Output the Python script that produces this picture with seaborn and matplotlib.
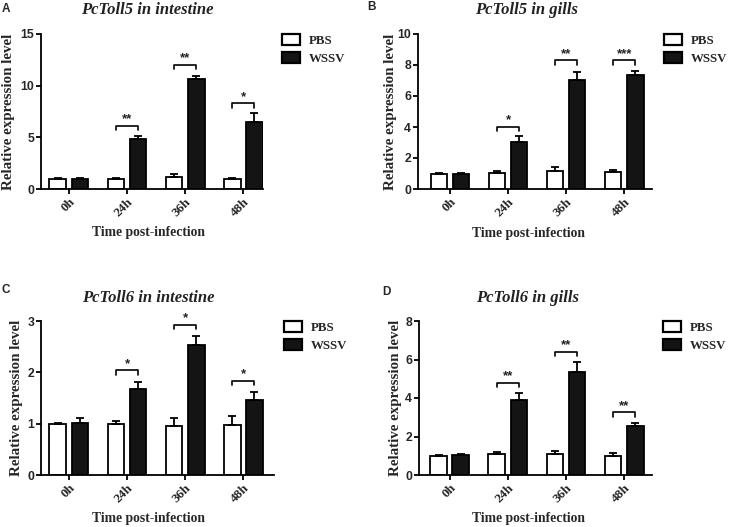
# -*- coding: utf-8 -*-
# relative expression of PcToll5 / PcToll6 after WSSV challenge, four panels
import numpy as np
import pandas as pd
import seaborn as sns
import matplotlib.pyplot as plt
from matplotlib.patches import Patch

sns.set_theme(style="ticks")
plt.rcParams["font.family"] = ["Liberation Serif", "DejaVu Serif"]

# data
times = ["0h", "24h", "36h", "48h"]
groups = ["PBS", "WSSV"]
titles = ["PcToll5 in intestine", "PcToll5 in gills", "PcToll6 in intestine", "PcToll6 in gills"]
letters = ["A", "B", "C", "D"]

pbs_a = [1.0, 1.0, 1.2, 1.0]
pbs_a_err = [0.06, 0.06, 0.25, 0.08]
wssv_a = [1.0, 4.85, 10.6, 6.45]
wssv_a_err = [0.06, 0.25, 0.3, 0.9]

pbs_b = [1.0, 1.05, 1.15, 1.1]
pbs_b_err = [0.05, 0.1, 0.25, 0.15]
wssv_b = [1.0, 3.05, 7.0, 7.35]
wssv_b_err = [0.06, 0.35, 0.55, 0.25]

pbs_c = [1.0, 1.0, 0.95, 0.98]
pbs_c_err = [0.02, 0.06, 0.17, 0.16]
wssv_c = [1.02, 1.68, 2.53, 1.47]
wssv_c_err = [0.09, 0.13, 0.18, 0.15]

pbs_d = [1.0, 1.08, 1.08, 1.0]
pbs_d_err = [0.05, 0.1, 0.15, 0.12]
wssv_d = [1.02, 3.88, 5.35, 2.55]
wssv_d_err = [0.05, 0.4, 0.5, 0.15]

# significance brackets (bracket level per time point, None = no bracket)
brk_a = [None, 6.1, 12.0, 8.3]
brk_b = [None, 4.0, 8.3, 8.3]
brk_c = [None, 2.04, 2.93, 1.84]
brk_d = [None, 4.8, 6.4, 3.25]
stars_a = ["", "**", "**", "*"]
stars_b = ["", "*", "**", "***"]
stars_c = ["", "*", "*", "*"]
stars_d = ["", "**", "**", "**"]

ymax = [15, 10, 3, 8]
ystep = [5, 2, 1, 2]

panels = [
    (pbs_a, pbs_a_err, wssv_a, wssv_a_err, brk_a, stars_a),
    (pbs_b, pbs_b_err, wssv_b, wssv_b_err, brk_b, stars_b),
    (pbs_c, pbs_c_err, wssv_c, wssv_c_err, brk_c, stars_c),
    (pbs_d, pbs_d_err, wssv_d, wssv_d_err, brk_d, stars_d),
]

# layout in pixels of the 731x527 figure
W, H = 731, 527
ax_px = [(41, 34, 263, 189), (418, 34, 652, 189), (41, 321, 274, 475), (419, 321, 652, 475)]
xlims = [(-0.48, 3.34), (-0.55, 3.48), (-0.48, 3.53), (-0.53, 3.48)]
title_px = [(147, 10), (527, 10), (148, 298), (528, 298)]
letter_px = [(2, 9), (367, 7), (1, 290), (382, 292)]
legend_px = [(282, 34), (664, 34), (284, 321), (663, 321)]
ylab_px = [15, 397, 23, 402]
xlab_px = [(149, 226), (529, 227), (149, 512), (529, 512)]

fig = plt.figure(figsize=(W / 100, H / 100), dpi=100)
bold_sans = dict(family=["Liberation Sans", "DejaVu Sans"], weight="bold")

for k, (pbs, pbs_err, wssv, wssv_err, brk, stars) in enumerate(panels):
    x0, y0, x1, y1 = ax_px[k]
    ax = fig.add_axes([x0 / W, 1 - y1 / H, (x1 - x0) / W, (y1 - y0) / H])

    df = pd.DataFrame({
        "time": times * 2,
        "group": [groups[0]] * 4 + [groups[1]] * 4,
        "value": pbs + wssv,
    })
    sns.barplot(data=df, x="time", y="value", hue="group", order=times, hue_order=groups,
                palette={"PBS": "white", "WSSV": "#141414"}, edgecolor="black",
                linewidth=1.3, width=0.76, gap=0.24, errorbar=None, legend=False,
                saturation=1, ax=ax)

    centers = []
    for cont, err in zip(ax.containers, [pbs_err, wssv_err]):
        xs = np.array([p.get_x() + p.get_width() / 2 for p in cont])
        hs = np.array([p.get_height() for p in cont])
        centers.append(xs)
        ax.errorbar(xs, hs, yerr=[np.zeros(4), err], fmt="none", ecolor="black",
                    elinewidth=1.3, capsize=2.6, capthick=1.3, zorder=1)

    # brackets with stars
    hk = ymax[k] * 0.028
    for i, lvl in enumerate(brk):
        if lvl is None:
            continue
        xa, xb = centers[0][i], centers[1][i]
        ax.plot([xa, xa, xb, xb], [lvl - hk, lvl, lvl, lvl - hk], color="black", lw=1.2,
                clip_on=False)
        ax.text((xa + xb) / 2, lvl + ymax[k] * 0.003, stars[i], ha="center", va="bottom",
                fontsize=9.5, color="#222222", **bold_sans)

    ax.set_ylim(0, ymax[k])
    ax.set_yticks(np.arange(0, ymax[k] + 0.01, ystep[k]))
    ax.set_xlim(*xlims[k])
    sns.despine(ax=ax)
    for s in ["left", "bottom"]:
        ax.spines[s].set_linewidth(1.3)
        ax.spines[s].set_color("black")
    ax.tick_params(axis="both", width=1.3, length=3.5, color="black", pad=1.5)
    for t in ax.get_yticklabels():
        t.set_fontfamily(["Liberation Sans", "DejaVu Sans"])
        t.set_fontweight("bold")
        t.set_fontsize(8.8)
    ax.set_xticks(range(4))
    ax.set_xticklabels(times, rotation=45, ha="right", rotation_mode="anchor",
                       fontsize=9.5, fontweight="bold")

    ax.set_ylabel("Relative expression level", fontsize=10.8, fontweight="bold")
    ax.set_xlabel("Time post-infection", fontsize=9.8, fontweight="bold")
    ax.yaxis.set_label_coords((ylab_px[k] - x0) / (x1 - x0), 0.5)
    lx, ly = xlab_px[k]
    ax.xaxis.set_label_coords((lx - x0) / (x1 - x0), (y1 - ly) / (y1 - y0))

    handles = [Patch(facecolor="white", edgecolor="black", linewidth=1.6),
               Patch(facecolor="#141414", edgecolor="black", linewidth=1.6)]
    gx, gy = legend_px[k]
    ax.legend(handles, groups, loc="upper left", bbox_to_anchor=(gx / W, 1 - gy / H),
              bbox_transform=fig.transFigure, frameon=False, borderpad=0, borderaxespad=0,
              handlelength=1.4, handleheight=0.95, handletextpad=0.7, labelspacing=0.4,
              prop=dict(family=["Liberation Serif"], weight="bold", size=9.3))

    tx, ty = title_px[k]
    fig.text(tx / W, 1 - ty / H, titles[k], ha="center", va="center", fontsize=12,
             fontweight="bold", fontstyle="italic", color="#222222")
    lx, ly = letter_px[k]
    fig.text(lx / W, 1 - ly / H, letters[k], ha="left", va="center", fontsize=8.5, **bold_sans)

fig.savefig("out.png", dpi=100)
